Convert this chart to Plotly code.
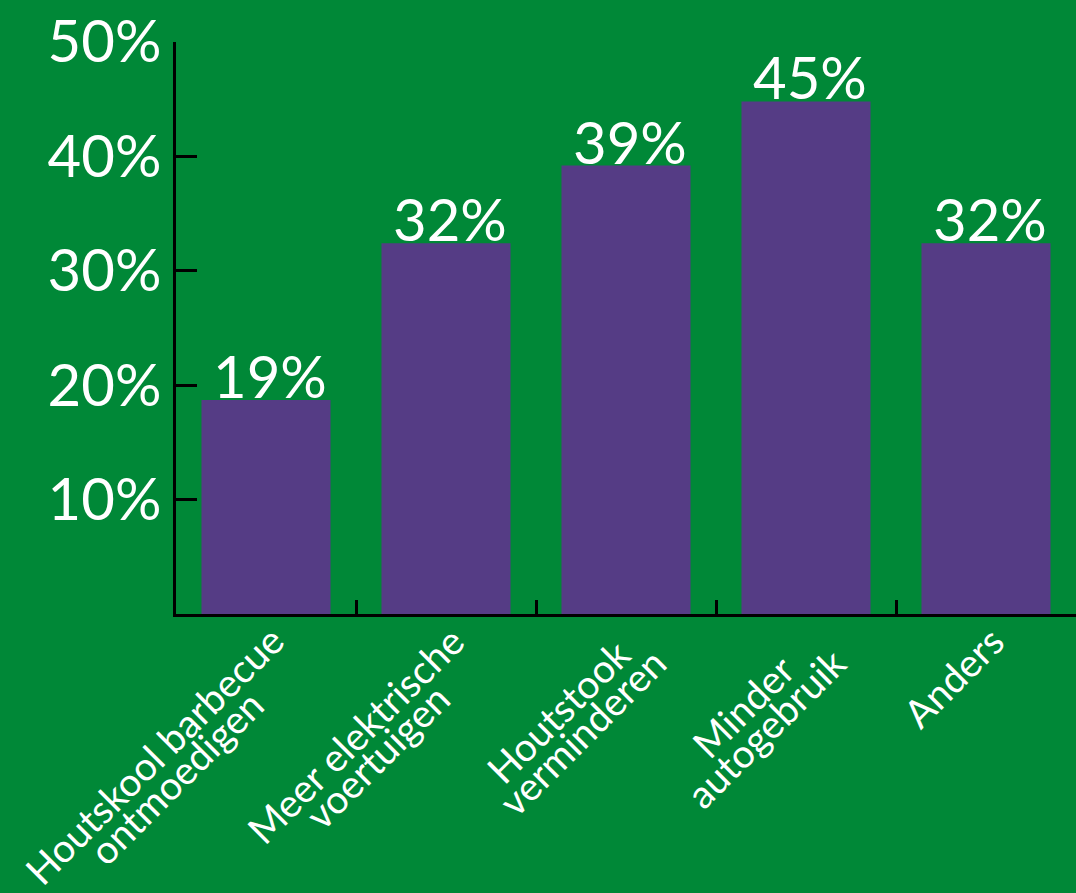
import math
import plotly.graph_objects as go

# ---- data ----
label_lines = [
    ["Houtskool barbecue", "ontmoedigen"],
    ["Meer elektrische", "voertuigen"],
    ["Houtstook", "verminderen"],
    ["Minder", "autogebruik"],
    ["Anders"],
]
categories = [" ".join(l) for l in label_lines]
values = [18.7, 32.4, 39.2, 44.8, 32.4]
y_tickvals = [10, 20, 30, 40, 50]
y_ticktext = ["10%", "20%", "30%", "40%", "50%"]

# ---- style ----
GREEN = "#008837"
PURPLE = "#553c85"
FONT = "Lato"
W, H = 1076, 893
ML, MR, MT, MB = 176, 0, 42, 279

XF = 39  # x label font size
# rough Lato advance widths (em) to centre the second line of a label
CW = {' ': .193, 'a': .51, 'b': .57, 'c': .47, 'd': .57, 'e': .53, 'g': .51,
      'h': .56, 'i': .24, 'k': .51, 'l': .24, 'm': .85, 'n': .56, 'o': .57,
      'r': .38, 's': .43, 't': .35, 'u': .56, 'v': .51, 'H': .76, 'M': .92,
      'A': .69}


def tw(s):
    return sum(CW.get(c, .52) for c in s) * XF


fig = go.Figure()
fig.add_trace(go.Bar(x=categories, y=values, marker=dict(color=PURPLE, line=dict(width=0)),
                     hoverinfo="skip"))

annotations = []
# value labels
for c, v in zip(categories, values):
    annotations.append(dict(x=c, y=v, xref="x", yref="y", text=f"{round(v)}%",
                            showarrow=False, xanchor="center", yanchor="bottom",
                            xshift=4, yshift=-12,
                            font=dict(family=FONT, size=58, color="white")))

# rotated category labels, each line centred on the longest one
U0, V0, LS = -7.0, 8.0, 31.0
box_h = 1.2 * XF + 4
r2 = math.sqrt(2)
for c, lines in zip(categories, label_lines):
    lmax = max(tw(s) for s in lines)
    for k, s in enumerate(lines):
        u = U0 - (lmax - tw(s)) / 2 + 2
        v = V0 + LS * k - (0.27 * XF + 2)
        cx = (u + v) / r2
        cy = (v - u) / r2
        annotations.append(dict(x=c, y=0, xref="x", yref="y", text=s, textangle=-45,
                                showarrow=False, xanchor="right", yanchor="top",
                                xshift=cx + box_h / r2, yshift=-cy,
                                font=dict(family=FONT, size=XF, color="white")))

fig.update_layout(
    width=W, height=H,
    margin=dict(l=ML, r=MR, t=MT, b=MB, pad=0),
    paper_bgcolor=GREEN, plot_bgcolor=GREEN,
    bargap=0.283,
    showlegend=False,
    annotations=annotations,
    xaxis=dict(type="category", categoryorder="array", categoryarray=categories,
               range=[-0.5, 4.5], showticklabels=False, showgrid=False, zeroline=False,
               showline=True, linecolor="black", linewidth=3,
               ticks="inside", tickson="boundaries", ticklen=14, tickwidth=2.5,
               tickcolor="black"),
    yaxis=dict(range=[0, 50], tickvals=y_tickvals, ticktext=y_ticktext,
               showgrid=False, zeroline=False, showline=True, linecolor="black",
               linewidth=3, ticks="inside", ticklen=21, tickwidth=3, tickcolor="black",
               ticklabelstandoff=0,
               tickfont=dict(family=FONT, size=58, color="white")),
)

fig.write_html("out.html", config={"displayModeBar": False},
               post_script="document.body.style.margin='0';")
